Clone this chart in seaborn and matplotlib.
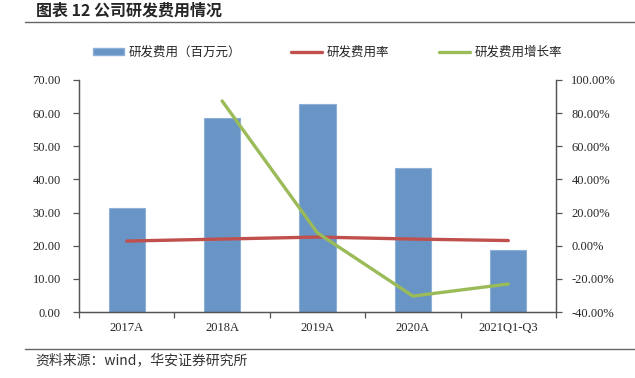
import numpy as np
import pandas as pd
import matplotlib.pyplot as plt
import matplotlib.ticker as mticker
from matplotlib.lines import Line2D
from matplotlib.patches import Patch
import seaborn as sns

categories = ["2017A", "2018A", "2019A", "2020A", "2021Q1-Q3"]
rd_expense = [31.4, 58.5, 62.8, 43.4, 18.7]          # 百万元
rd_ratio = [2.8, 4.0, 5.2, 4.0, 3.1]                  # %
rd_growth = [np.nan, 87.3, 7.7, -30.4, -23.1]         # %

df = pd.DataFrame({"year": categories, "expense": rd_expense,
                   "ratio": rd_ratio, "growth": rd_growth})

sns.set_style("white")
plt.rcParams["font.family"] = ["Noto Sans CJK SC", "DejaVu Sans"]

bar_color = "#6895C6"
red = "#C0504D"
green = "#9BBB59"
serif = ["Liberation Serif", "DejaVu Serif"]

fig = plt.figure(figsize=(6.35, 3.78), dpi=100)
ax = fig.add_axes([0.1244, 0.1746, 0.7512, 0.614])

sns.barplot(data=df, x="year", y="expense", color=bar_color, width=0.38,
            edgecolor="#8DB0D8", linewidth=0.8, saturation=1, ax=ax)
ax.set_ylim(0, 70)
ax.set_xlim(-0.5, 4.5)
ax.yaxis.set_major_locator(mticker.MultipleLocator(10))
ax.yaxis.set_major_formatter(mticker.FormatStrFormatter("%.2f"))
ax.set_xlabel("")
ax.set_ylabel("")

ax2 = ax.twinx()
sns.lineplot(data=df, x="year", y="ratio", color=red, linewidth=2.4, ax=ax2)
g = df.dropna(subset=["growth"])
sns.lineplot(data=g, x="year", y="growth", color=green, linewidth=2.4, ax=ax2)
ax2.set_ylim(-40, 100)
ax2.yaxis.set_major_locator(mticker.MultipleLocator(20))
ax2.yaxis.set_major_formatter(mticker.FuncFormatter(lambda v, p: f"{v:.2f}%"))
ax2.set_ylabel("")
ax2.set_xlim(-0.5, 4.5)

for a in (ax, ax2):
    for s in a.spines.values():
        s.set_color("#555555")
        s.set_linewidth(0.9)
    a.spines["top"].set_visible(False)
    for lab in a.get_yticklabels():
        lab.set_family(serif)

ax.tick_params(axis="y", direction="out", length=4, width=0.9, color="#555555",
               labelsize=9, left=True, pad=9)
ax2.tick_params(axis="y", direction="out", length=4, width=0.9, color="#555555",
                labelsize=9, right=True, pad=7)
# x ticks at category boundaries
ax.set_xticks(np.arange(-0.5, 5, 1), minor=True)
ax.tick_params(axis="x", which="major", length=0, labelsize=9, pad=7)
ax.tick_params(axis="x", which="minor", direction="out", length=4, width=0.9,
               color="#555555", bottom=True)
for lab in ax.get_xticklabels():
    lab.set_family(serif)

handles = [Patch(facecolor=bar_color, edgecolor="#8DB0D8"),
           Line2D([], [], color=red, linewidth=2.4),
           Line2D([], [], color=green, linewidth=2.4)]
labels = ["研发费用（百万元）", "研发费用率", "研发费用增长率"]
fig.legend(handles, labels, loc="center", bbox_to_anchor=(0.516, 0.862), ncol=3,
           frameon=False, fontsize=9, columnspacing=4.0, handlelength=2.5,
           handleheight=0.5, handletextpad=0.35)

fig.text(0.057, 0.973, "图表 12 公司研发费用情况", fontsize=11.5, fontweight="bold",
         va="center", ha="left")
fig.add_artist(Line2D([0.039, 1.0], [0.942, 0.942], color="#666666", linewidth=1))
fig.add_artist(Line2D([0.039, 1.0], [0.077, 0.077], color="#666666", linewidth=1))
fig.text(0.055, 0.046, "资料来源：wind，华安证券研究所", fontsize=10, va="center",
         ha="left", color="#333333")

fig.savefig("out.png", dpi=100)
